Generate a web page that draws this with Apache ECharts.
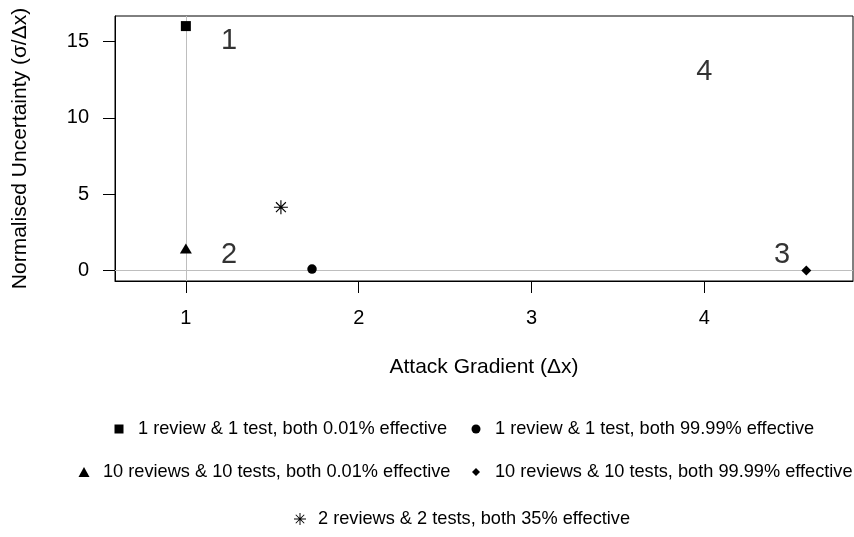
<!DOCTYPE html>
<html>
<head>
<meta charset="utf-8">
<script src="https://cdn.jsdelivr.net/npm/echarts@6/dist/echarts.min.js"></script>
<style>
  html, body { margin: 0; padding: 0; background: #fff; }
  #chart { width: 854px; height: 537px; }
</style>
</head>
<body>
<div id="chart"></div>
<script>
// Scenario names, one point per scenario: [attack gradient, normalised uncertainty]
const seriesNames = [
  '1 review & 1 test, both 0.01% effective',
  '1 review & 1 test, both 99.99% effective',
  '10 reviews & 10 tests, both 0.01% effective',
  '10 reviews & 10 tests, both 99.99% effective',
  '2 reviews & 2 tests, both 35% effective'
];
const gradientX = [1.0, 1.73, 1.0, 4.59, 1.55];
const uncertaintyY = [16.0, 0.1, 1.45, 0.0, 4.15];

// Region numbers written on the plot
const regionLabels = ['1', '2', '3', '4'];
const regionX = [1.25, 1.25, 4.45, 4.0];
const regionY = [15.0, 1.0, 1.0, 13.0];

// Reference lines
const refLineX = [1];
const refLineY = [0];

// Tick values
const xTicks = [1, 2, 3, 4];
const yTicks = [0, 5, 10, 15];

const FONT = '"Liberation Sans", Arial, Helvetica, sans-serif';

// asterisk made of eight equal spokes (plus and cross)
const ASTERISK = 'path://M9.2 0L10.8 0L10.8 20L9.2 20Z M0 9.2L20 9.2L20 10.8L0 10.8Z ' +
  'M2.36 3.49L3.49 2.36L17.64 16.5L16.5 17.64Z M16.5 2.36L17.64 3.49L3.49 17.64L2.36 16.5Z';

const symbols = ['rect', 'circle', 'triangle', 'diamond', ASTERISK];
const symbolSizes = [10, 9.5, [12, 10], [10, 10], 14];

// legend layout: icon size, icon centre x, text start x, row centre y
const legendLayout = [
  { w: 9,  h: 9,  cx: 119, tx: 138, cy: 429 },
  { w: 9,  h: 9,  cx: 476, tx: 495, cy: 429 },
  { w: 11, h: 10, cx: 84,  tx: 103, cy: 472 },
  { w: 8,  h: 8,  cx: 476, tx: 495, cy: 472 },
  { w: 12, h: 12, cx: 300, tx: 318, cy: 519 }
];

const legends = seriesNames.map((name, i) => {
  const L = legendLayout[i];
  const left = L.cx - L.w / 2;
  return {
    data: [{ name: name, icon: symbols[i] }],
    left: left,
    top: L.cy - 10,
    padding: 0,
    itemGap: 0,
    itemWidth: L.w,
    itemHeight: L.h,
    selectedMode: false,
    itemStyle: { color: '#000', borderWidth: 0 },
    textStyle: {
      fontFamily: FONT, fontSize: 18.2, color: '#000', lineHeight: 20,
      padding: [0, 0, 0, L.tx - (left + L.w + 5)]
    }
  };
});

const pointSeries = seriesNames.map((name, i) => ({
  name: name,
  type: 'scatter',
  symbol: symbols[i],
  symbolSize: symbolSizes[i],
  itemStyle: { color: '#000', opacity: 1 },
  z: 5,
  data: [[gradientX[i], uncertaintyY[i]]]
}));

const option = {
  animation: false,
  backgroundColor: '#fff',
  grid: {
    left: 115, top: 16, width: 738, height: 265,
    show: true, borderColor: '#000', borderWidth: 1, backgroundColor: 'transparent'
  },
  legend: legends,
  xAxis: {
    type: 'value',
    position: 'bottom',
    min: 0.59, max: 4.86,
    name: 'Attack Gradient (\u0394x)',
    nameLocation: 'middle',
    nameGap: 76,
    nameTextStyle: { fontFamily: FONT, fontSize: 21, color: '#000' },
    axisLine: { show: true, onZero: false, lineStyle: { color: '#000', width: 1 } },
    splitLine: { show: false },
    axisTick: { show: true, inside: false, length: 12, lineStyle: { color: '#000' }, customValues: xTicks },
    axisLabel: { fontFamily: FONT, fontSize: 20, color: '#000', margin: 27, customValues: xTicks }
  },
  yAxis: {
    type: 'value',
    position: 'left',
    min: -0.68, max: 16.66,
    name: 'Normalised Uncertainty (\u03c3/\u0394x)',
    nameLocation: 'middle',
    nameGap: 84,
    nameRotate: 90,
    nameTextStyle: { fontFamily: FONT, fontSize: 21, color: '#000' },
    axisLine: { show: true, onZero: false, lineStyle: { color: '#000', width: 1 } },
    splitLine: { show: false },
    axisTick: { show: true, inside: false, length: 12, lineStyle: { color: '#000' }, customValues: yTicks },
    axisLabel: { fontFamily: FONT, fontSize: 20, color: '#000', margin: 26, customValues: yTicks }
  },
  series: [
    {
      type: 'scatter',
      data: [],
      z: 1,
      markLine: {
        silent: true,
        symbol: 'none',
        label: { show: false },
        lineStyle: { color: '#bebebe', width: 1, type: 'solid' },
        data: refLineX.map(v => ({ xAxis: v })).concat(refLineY.map(v => ({ yAxis: v })))
      }
    },
    ...pointSeries,
    {
      type: 'scatter',
      symbolSize: 1,
      itemStyle: { color: 'rgba(0,0,0,0)' },
      z: 6,
      label: {
        show: true,
        position: 'inside',
        formatter: p => p.value[2],
        fontFamily: FONT, fontSize: 29, color: '#000'
      },
      data: regionLabels.map((t, i) => [regionX[i], regionY[i], t])
    }
  ]
};

const chart = echarts.init(document.getElementById('chart'), null, { renderer: 'canvas' });
chart.setOption(option);
</script>
</body>
</html>
